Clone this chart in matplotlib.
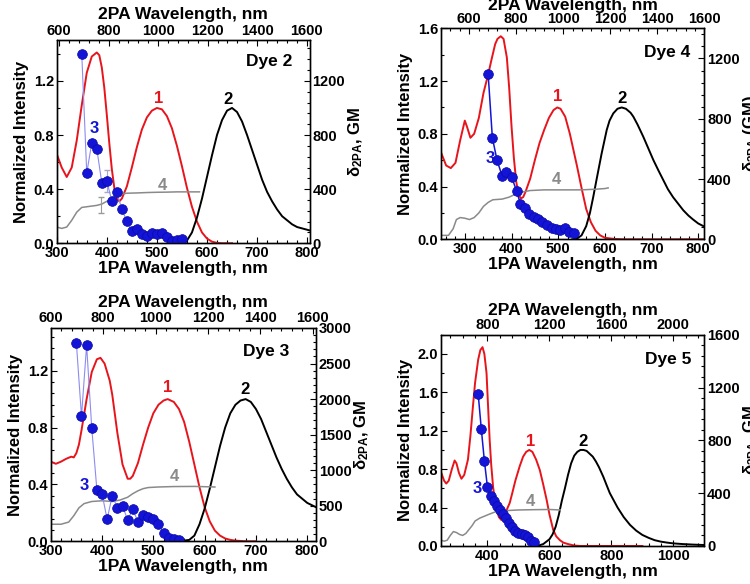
import matplotlib
matplotlib.use("Agg")
import matplotlib.pyplot as plt
from matplotlib.ticker import MultipleLocator, AutoMinorLocator

plt.rcParams["font.family"] = ["Liberation Sans", "DejaVu Sans"]
plt.rcParams["font.weight"] = "bold"
plt.rcParams["axes.labelweight"] = "bold"
plt.rcParams["mathtext.default"] = "regular"

RED = "#e8141c"
GRAY = "#8a8a8a"
BLUE = "#1414d8"

# ---------------- Dye 2 ----------------
d2_abs_wl = [300, 310, 320, 330, 340, 350, 360, 370, 380, 385, 390, 395, 400, 405, 410, 415, 420, 425,
             430, 440, 450, 460, 470, 480, 490, 500, 510, 520, 530, 540, 550, 560, 570, 580, 590,
             600, 610, 620, 630, 650]
d2_abs = [0.66, 0.56, 0.49, 0.56, 0.76, 1.02, 1.26, 1.38, 1.41, 1.39, 1.30, 1.15, 0.95, 0.74, 0.55,
          0.41, 0.33, 0.31, 0.33, 0.42, 0.56, 0.71, 0.84, 0.93, 0.98, 1.00, 0.99, 0.94, 0.85, 0.72,
          0.57, 0.41, 0.27, 0.16, 0.08, 0.035, 0.012, 0.003, 0.0, 0.0]
d2_em_wl = [550, 560, 570, 580, 590, 600, 610, 620, 630, 640, 650, 660, 670, 680, 690, 700, 710,
            720, 730, 740, 750, 760, 770, 780, 790, 800, 810]
d2_em = [0.0, 0.02, 0.08, 0.19, 0.33, 0.49, 0.65, 0.80, 0.91, 0.98, 1.00, 0.97, 0.90, 0.80, 0.69,
         0.58, 0.47, 0.38, 0.31, 0.25, 0.20, 0.17, 0.14, 0.12, 0.11, 0.10, 0.09]
d2_exc_wl = [300, 310, 320, 330, 340, 350, 360, 370, 380, 390, 400, 410, 420, 430, 440, 460, 480,
             500, 520, 540, 560, 585]
d2_exc = [0.12, 0.11, 0.12, 0.17, 0.23, 0.265, 0.27, 0.275, 0.28, 0.29, 0.31, 0.33, 0.355, 0.365,
          0.37, 0.372, 0.375, 0.377, 0.378, 0.38, 0.38, 0.38]
d2_tpa_wl = [350, 360, 370, 380, 390, 400, 410, 420, 430, 440, 450, 460, 470, 480, 490, 500, 510,
             520, 530, 540, 550]
d2_tpa = [1400, 520, 740, 700, 447, 459, 314, 376, 253, 164, 93, 105, 69, 54, 74, 69, 78, 44, 17,
          24, 29]

# ---------------- Dye 4 ----------------
d4_abs_wl = [250, 260, 270, 280, 290, 300, 305, 312, 320, 330, 340, 350, 357, 365, 370, 377, 383,
             390, 395, 400, 405, 410, 415, 420, 425, 430, 440, 450, 460, 470, 480, 490, 498, 505,
             515, 525, 530, 540, 550, 555, 560, 570, 580, 590, 600, 620, 640, 812]
d4_abs = [0.65, 0.56, 0.54, 0.58, 0.75, 0.90, 0.85, 0.77, 0.80, 0.92, 1.11, 1.25, 1.36, 1.48, 1.52,
          1.54, 1.52, 1.38, 1.15, 0.86, 0.62, 0.44, 0.34, 0.31, 0.32, 0.36, 0.46, 0.60, 0.73, 0.83,
          0.92, 0.98, 1.00, 0.99, 0.93, 0.80, 0.72, 0.56, 0.39, 0.31, 0.23, 0.13, 0.065, 0.03,
          0.012, 0.003, 0.0, 0.0]
d4_em_wl = [530, 540, 550, 560, 568, 575, 582, 593, 604, 610, 618, 627, 636, 645, 655, 661, 670,
            682, 693, 704, 715, 725, 735, 746, 757, 768, 779, 789, 800, 811]
d4_em = [0.0, 0.005, 0.03, 0.10, 0.20, 0.32, 0.45, 0.65, 0.83, 0.90, 0.955, 0.99, 1.0, 0.99, 0.96,
         0.93, 0.87, 0.78, 0.69, 0.60, 0.52, 0.45, 0.38, 0.32, 0.27, 0.22, 0.18, 0.15, 0.12, 0.10]
d4_exc_wl = [250, 265, 275, 282, 290, 300, 310, 320, 330, 340, 350, 360, 380, 395, 410, 425, 440,
             470, 500, 550, 580, 600, 607]
d4_exc = [0.03, 0.03, 0.08, 0.15, 0.165, 0.16, 0.15, 0.165, 0.20, 0.25, 0.28, 0.30, 0.305, 0.32,
          0.345, 0.36, 0.37, 0.375, 0.375, 0.375, 0.38, 0.385, 0.39]
d4_tpa_wl = [350, 359, 369, 380, 389, 400, 411, 419, 429, 438, 448, 457, 466, 476, 486, 495, 504,
             514, 524, 534]
d4_tpa = [1096, 674, 525, 420, 449, 416, 320, 235, 206, 168, 150, 133, 113, 95, 77, 67, 61, 77, 51, 39]

# ---------------- Dye 3 ----------------
d3_abs_wl = [300, 310, 320, 330, 340, 345, 350, 355, 360, 370, 380, 390, 397, 405, 415, 420, 430,
             440, 450, 455, 460, 470, 480, 490, 500, 510, 520, 528, 540, 550, 560, 570, 580, 590,
             600, 610, 620, 630, 640, 650, 660, 680, 700]
d3_abs = [0.56, 0.545, 0.56, 0.58, 0.595, 0.59, 0.62, 0.68, 0.78, 1.00, 1.19, 1.28, 1.29, 1.25,
          1.13, 1.03, 0.76, 0.54, 0.44, 0.44, 0.46, 0.55, 0.68, 0.80, 0.90, 0.96, 0.99, 1.00, 0.98,
          0.93, 0.84, 0.70, 0.54, 0.38, 0.24, 0.14, 0.075, 0.04, 0.02, 0.01, 0.005, 0.0, 0.0]
d3_em_wl = [550, 570, 580, 590, 600, 610, 620, 630, 640, 650, 660, 670, 680, 690, 700, 710, 720,
            730, 740, 750, 760, 770, 780, 790, 800, 817]
d3_em = [0.0, 0.01, 0.04, 0.12, 0.23, 0.37, 0.52, 0.67, 0.80, 0.90, 0.96, 0.99, 1.00, 0.98, 0.93,
         0.86, 0.77, 0.68, 0.59, 0.51, 0.44, 0.38, 0.33, 0.30, 0.27, 0.24]
d3_exc_wl = [300, 320, 335, 345, 355, 365, 380, 400, 420, 435, 450, 460, 470, 480, 490, 510, 540,
             580, 620]
d3_exc = [0.12, 0.12, 0.135, 0.18, 0.235, 0.265, 0.28, 0.285, 0.28, 0.29, 0.31, 0.335, 0.355, 0.37,
          0.378, 0.382, 0.385, 0.386, 0.382]
d3_tpa_wl = [350, 360, 370, 380, 390, 400, 410, 420, 430, 440, 450, 460, 470, 480, 490, 500, 510,
             520, 530, 540, 550]
d3_tpa = [2794, 1758, 2756, 1594, 724, 668, 310, 644, 466, 498, 300, 452, 276, 372, 348, 314, 240,
          112, 42, 32, 18]

# ---------------- Dye 5 ----------------
d5_abs_wl = [250, 260, 267, 275, 285, 294, 300, 308, 316, 325, 337, 345, 353, 360, 370, 377, 384,
             390, 397, 402, 407, 412, 418, 424, 429, 437, 445, 452, 460, 472, 480, 490, 504, 515,
             525, 535, 545, 557, 569, 580, 591, 600, 612, 622, 634, 645, 660, 680, 700, 900]
d5_abs = [0.77, 0.68, 0.65, 0.68, 0.80, 0.89, 0.86, 0.76, 0.70, 0.74, 0.90, 1.15, 1.45, 1.70, 1.94,
          2.04, 2.07, 2.00, 1.80, 1.45, 1.11, 0.85, 0.62, 0.47, 0.38, 0.30, 0.27, 0.30, 0.36, 0.45,
          0.55, 0.68, 0.83, 0.93, 0.98, 1.00, 0.98, 0.90, 0.79, 0.64, 0.48, 0.33, 0.17, 0.10, 0.06,
          0.035, 0.02, 0.005, 0.0, 0.0]
d5_em_wl = [560, 580, 600, 610, 620, 630, 640, 650, 660, 670, 680, 690, 700, 710, 720, 730, 740,
            750, 760, 774, 785, 795, 820, 840, 860, 880, 900, 920, 940, 960, 980, 1000, 1030, 1060,
            1100]
d5_em = [0.0, 0.02, 0.07, 0.12, 0.20, 0.32, 0.47, 0.60, 0.74, 0.86, 0.94, 0.98, 1.00, 1.00, 0.99,
         0.96, 0.93, 0.88, 0.82, 0.72, 0.63, 0.55, 0.40, 0.30, 0.22, 0.16, 0.115, 0.085, 0.06,
         0.045, 0.035, 0.027, 0.02, 0.015, 0.01]
d5_exc_wl = [250, 260, 270, 280, 290, 300, 310, 320, 330, 340, 350, 360, 375, 390, 405, 425, 445,
             470, 500, 550, 600, 635]
d5_exc = [0.06, 0.05, 0.06, 0.11, 0.15, 0.14, 0.12, 0.11, 0.13, 0.17, 0.21, 0.26, 0.29, 0.31, 0.33,
          0.355, 0.365, 0.37, 0.375, 0.378, 0.38, 0.375]
d5_tpa_wl = [370, 380, 390, 400, 410, 420, 430, 440, 450, 460, 470, 480, 490, 500, 510, 520, 530,
             540, 550]
d5_tpa = [1151, 888, 645, 445, 375, 338, 303, 273, 243, 210, 172, 142, 116, 101, 91, 84, 65, 41, 29]

TPA_LABEL = "δ$_{2PA}$, GM"


def make_panel(rect, xlim, xlim_top, xstep, xstep_top, ymax, ystep, ymax_r, ystep_r,
               abs_wl, abs_i, em_wl, em_i, exc_wl, exc_i, tpa_wl, tpa,
               name, name_xy, lab_pos, tpa_line, rlabel=TPA_LABEL, yminor=5, toppad=3):
    ax = fig.add_axes(rect)
    ax.plot(abs_wl, abs_i, color=RED, lw=1.4)
    ax.plot(em_wl, em_i, color="black", lw=1.4)
    ax.plot(exc_wl, exc_i, color=GRAY, lw=1.1)
    ax.set_xlim(*xlim)
    ax.set_ylim(0, ymax)
    ax.xaxis.set_major_locator(MultipleLocator(xstep))
    ax.xaxis.set_minor_locator(AutoMinorLocator(5))
    ax.yaxis.set_major_locator(MultipleLocator(ystep))
    ax.yaxis.set_minor_locator(AutoMinorLocator(yminor))
    ax.yaxis.set_major_formatter(plt.FormatStrFormatter("%.1f"))
    ax.set_xlabel("1PA Wavelength, nm", fontsize=12.5, fontweight="bold", labelpad=1)
    ax.set_ylabel("Normalized Intensity", fontsize=12, fontweight="bold", labelpad=3)

    axr = ax.twinx()
    axr.plot(tpa_wl, tpa, color=tpa_line[0], lw=tpa_line[1], zorder=2)
    axr.plot(tpa_wl, tpa, "o", ms=7, color=BLUE, mec="#0a0aa0", mew=0.5, zorder=3)
    axr.set_ylim(0, ymax_r)
    axr.yaxis.set_major_locator(MultipleLocator(ystep_r))
    axr.yaxis.set_minor_locator(AutoMinorLocator(5))
    axr.set_ylabel(rlabel, fontsize=12, fontweight="bold", labelpad=1)

    axt = ax.twiny()
    axt.set_xlim(*xlim_top)
    axt.xaxis.set_major_locator(MultipleLocator(xstep_top))
    axt.xaxis.set_minor_locator(AutoMinorLocator(5))
    axt.set_xlabel("2PA Wavelength, nm", fontsize=12.5, fontweight="bold", labelpad=toppad)

    for a in (ax, axr, axt):
        a.tick_params(which="both", direction="in", labelsize=10.5, width=0.8)
        a.tick_params(which="major", length=4, pad=2)
        a.tick_params(which="minor", length=2.5)
        for lab in a.get_xticklabels() + a.get_yticklabels():
            lab.set_fontweight("bold")
        for s in a.spines.values():
            s.set_linewidth(0.9)

    ax.text(*name_xy, name, fontsize=12.5, fontweight="bold", ha="center", va="center")
    ax.text(*lab_pos[0], "1", color=RED, fontsize=12, fontweight="bold", ha="center", va="center")
    ax.text(*lab_pos[1], "2", color="black", fontsize=12, fontweight="bold", ha="center", va="center")
    ax.text(*lab_pos[2], "3", color=BLUE, fontsize=12, fontweight="bold", ha="center", va="center")
    ax.text(*lab_pos[3], "4", color=GRAY, fontsize=12, fontweight="bold", ha="center", va="center")
    return ax, axr


fig = plt.figure(figsize=(7.5, 5.84), dpi=100)

ax2, ax2r = make_panel([0.0756, 0.5834, 0.3373, 0.3476], (300, 805), (590, 1612), 100, 200,
                       1.5, 0.4, 1500, 400,
                       d2_abs_wl, d2_abs, d2_em_wl, d2_em, d2_exc_wl, d2_exc, d2_tpa_wl, d2_tpa,
                       "Dye 2", (725, 1.345),
                       [(504, 1.07), (642, 1.06), (374, 0.85), (510, 0.43)],
                       ("#8c8cf0", 0.8), yminor=2)
ax2.errorbar([389], [0.285], yerr=[0.06], color="#9a9a9a", lw=0.8, capsize=2)
ax2r.errorbar([400], [459], yerr=[80], color="#a8a8c8", lw=0.8, capsize=2, zorder=1)

make_panel([0.588, 0.5902, 0.3511, 0.3613], (249, 813), (480, 1600), 100, 200,
           1.6, 0.4, 1400, 400,
           d4_abs_wl, d4_abs, d4_em_wl, d4_em, d4_exc_wl, d4_exc, d4_tpa_wl, d4_tpa,
           "Dye 4", (734, 1.42),
           [(499, 1.08), (636, 1.07), (354, 0.61), (496, 0.45)],
           (BLUE, 1.1), rlabel="δ$_{2PA}$ (GM)", yminor=2, toppad=1)

make_panel([0.0676, 0.0731, 0.3537, 0.3653], (300, 817), (600, 1612), 100, 200,
           1.5, 0.4, 3000, 500,
           d3_abs_wl, d3_abs, d3_em_wl, d3_em, d3_exc_wl, d3_exc, d3_tpa_wl, d3_tpa,
           "Dye 3", (720, 1.336),
           [(528, 1.08), (679, 1.07), (365, 0.395), (541, 0.454)],
           ("#8c8cf0", 0.8), yminor=5)

make_panel([0.588, 0.0651, 0.3511, 0.3618], (250, 1100), (500, 2200), 200, 400,
           2.2, 0.4, 1600, 400,
           d5_abs_wl, d5_abs, d5_em_wl, d5_em, d5_exc_wl, d5_exc, d5_tpa_wl, d5_tpa,
           "Dye 5", (982, 1.94),
           [(538, 1.09), (709, 1.09), (368, 0.60), (538, 0.466)],
           (BLUE, 1.1), yminor=2, toppad=2)

fig.savefig("out.png", dpi=100)
